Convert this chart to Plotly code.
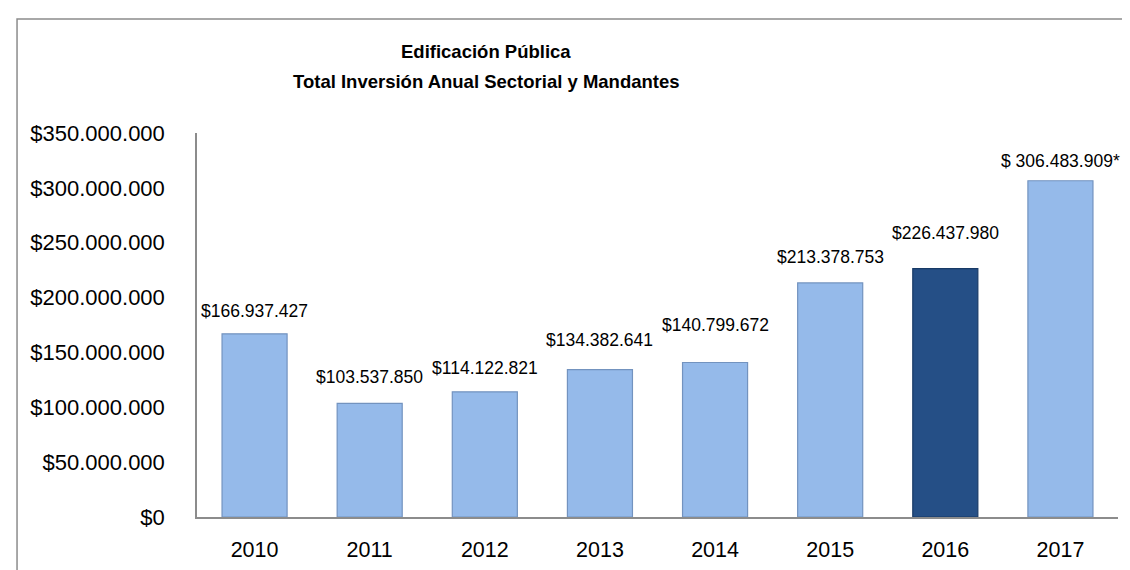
import plotly.graph_objects as go

# ---- data ----
years = [2010, 2011, 2012, 2013, 2014, 2015, 2016, 2017]
inversion = [166937427, 103537850, 114122821, 134382641, 140799672, 213378753, 226437980, 306483909]
highlight_year = 2016
y_tick_values = [0, 50000000, 100000000, 150000000, 200000000, 250000000, 300000000, 350000000]
y_tick_labels = ["$0", "$50.000.000", "$100.000.000", "$150.000.000", "$200.000.000",
                 "$250.000.000", "$300.000.000", "$350.000.000"]
bar_labels = ["$166.937.427", "$103.537.850", "$114.122.821", "$134.382.641",
              "$140.799.672", "$213.378.753", "$226.437.980", "$ 306.483.909*"]
title_lines = ["Edificación Pública", "Total Inversión Anual Sectorial y Mandantes"]

# ---- styling (kept separate from data) ----
label_gap_px = [14, 17, 15, 21, 29, 17, 27, 11]
LIGHT = "#95BAEA"
DARK = "#254F86"
FONT = "Liberation Sans"

colors = [DARK if y == highlight_year else LIGHT for y in years]
line_colors = ["#183A66" if y == highlight_year else "#7393BF" for y in years]

fig = go.Figure()
fig.add_trace(
    go.Bar(
        x=years,
        y=inversion,
        width=0.565,
        marker=dict(color=colors, line=dict(color=line_colors, width=1.2)),
    )
)

annotations = []
for y, v, t, g in zip(years, inversion, bar_labels, label_gap_px):
    annotations.append(
        dict(
            x=y, y=v, xref="x", yref="y", text=t, showarrow=False,
            yanchor="bottom", yshift=g - 3,
            font=dict(family=FONT, size=17.5, color="#000000"),
        )
    )

for line, ypos in zip(title_lines, [1.211, 1.133]):
    annotations.append(
        dict(
            x=0.3138, y=ypos, xref="paper", yref="paper", text="<b>" + line + "</b>",
            showarrow=False, xanchor="center", yanchor="middle",
            font=dict(family=FONT, size=18.5, color="#000000"),
        )
    )

fig.update_layout(
    width=1130,
    height=570,
    paper_bgcolor="white",
    plot_bgcolor="white",
    margin=dict(l=189, r=20, t=125, b=61),
    showlegend=False,
    font=dict(family=FONT, color="#000000"),
    annotations=annotations,
    shapes=[
        dict(
            type="rect", xref="paper", yref="paper",
            x0=-0.1954, x1=1.1, y0=-0.3, y1=1.2969,
            line=dict(color="#8C8C8C", width=1.5),
            layer="below",
        )
    ],
    xaxis=dict(
        range=[years[0] - 0.5, years[-1] + 0.5],
        tickmode="array", tickvals=years, ticktext=[str(y) for y in years],
        showline=True, linecolor="#8C8C8C", linewidth=1.5,
        showgrid=False, zeroline=False,
        ticks="outside", ticklen=12, tickcolor="rgba(0,0,0,0)",
        tickfont=dict(family=FONT, size=21.5, color="#000000"),
    ),
    yaxis=dict(
        range=[0, 350000000],
        tickmode="array", tickvals=y_tick_values, ticktext=y_tick_labels,
        showline=True, linecolor="#8C8C8C", linewidth=1.5,
        showgrid=False, zeroline=False,
        ticks="outside", ticklen=26, tickcolor="rgba(0,0,0,0)",
        tickfont=dict(family=FONT, size=22, color="#000000"),
    ),
)

fig.write_html("out.html")
